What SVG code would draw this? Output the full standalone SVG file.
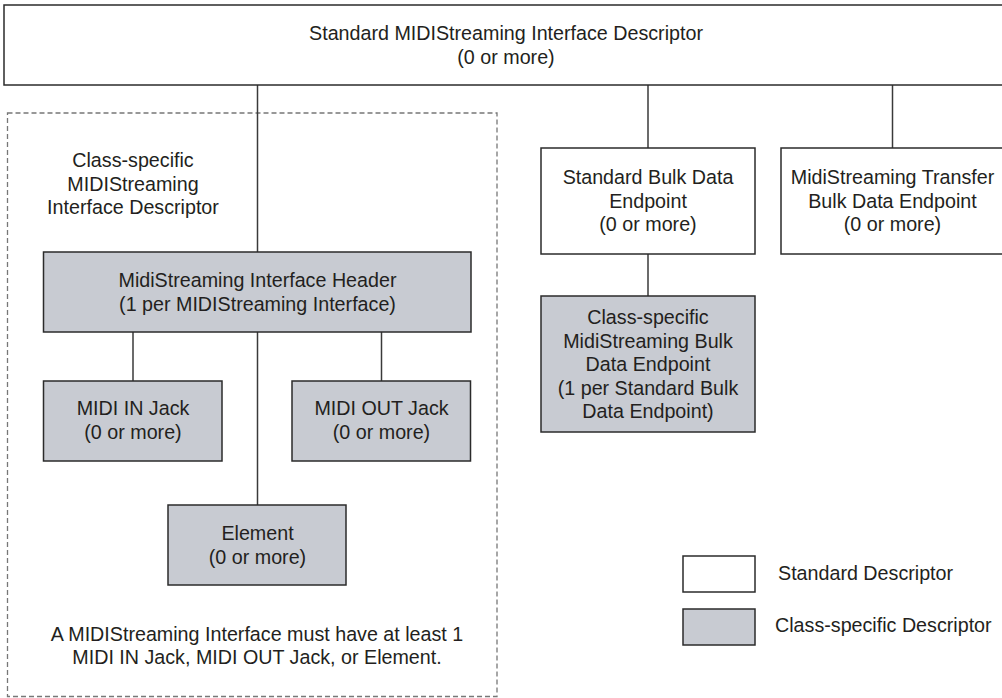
<svg xmlns="http://www.w3.org/2000/svg" width="1002" height="698" viewBox="0 0 1002 698">
<style>
text{font-family:"Liberation Sans",Arial,sans-serif;font-size:19.7px;fill:#231f20;text-anchor:middle}
.std{fill:#ffffff;stroke:#2b2b2b;stroke-width:1.5}
.cls{fill:#c8cbd2;stroke:#2b2b2b;stroke-width:1.5}
.conn line{stroke:#3a3a3a;stroke-width:1.5}
.dash{fill:none;stroke:#777;stroke-width:1.3;stroke-dasharray:5 3}
.lg{text-anchor:start}
</style>
<rect width="1002" height="698" fill="#fff"/>
<rect id="cs-region" class="dash" x="7.5" y="113" width="489.5" height="583.5"/>
<g class="conn" id="connectors">
<line x1="257.5" y1="85" x2="257.5" y2="252"/>
<line x1="648" y1="85" x2="648" y2="148"/>
<line x1="892.5" y1="85" x2="892.5" y2="148"/>
<line x1="648" y1="254" x2="648" y2="296"/>
<line x1="133" y1="332" x2="133" y2="381"/>
<line x1="381.5" y1="332" x2="381.5" y2="381"/>
<line x1="257.5" y1="332" x2="257.5" y2="505"/>
</g>
<g id="std-interface">
<rect class="std" x="4" y="5" width="1004" height="80"/>
<text x="506" y="40">Standard MIDIStreaming Interface Descriptor</text>
<text x="506" y="64">(0 or more)</text>
</g>
<g id="cs-label">
<text x="133" y="167">Class-specific</text>
<text x="133" y="190.5">MIDIStreaming</text>
<text x="133" y="214">Interface Descriptor</text>
</g>
<g id="header">
<rect class="cls" x="43.5" y="252" width="427.5" height="80"/>
<text x="257.5" y="287">MidiStreaming Interface Header</text>
<text x="257.5" y="311">(1 per MIDIStreaming Interface)</text>
</g>
<g id="midi-in">
<rect class="cls" x="43.5" y="381" width="178.5" height="80"/>
<text x="133" y="415">MIDI IN Jack</text>
<text x="133" y="439">(0 or more)</text>
</g>
<g id="midi-out">
<rect class="cls" x="292" y="381" width="178.5" height="80"/>
<text x="381.5" y="415">MIDI OUT Jack</text>
<text x="381.5" y="439">(0 or more)</text>
</g>
<g id="element">
<rect class="cls" x="168" y="505" width="178" height="80"/>
<text x="257.5" y="540">Element</text>
<text x="257.5" y="564">(0 or more)</text>
</g>
<g id="note">
<text x="257" y="641">A MIDIStreaming Interface must have at least 1</text>
<text x="257" y="664">MIDI IN Jack, MIDI OUT Jack, or Element.</text>
</g>
<g id="std-bulk">
<rect class="std" x="541" y="148" width="214" height="106"/>
<text x="648" y="184">Standard Bulk Data</text>
<text x="648" y="207.5">Endpoint</text>
<text x="648" y="231">(0 or more)</text>
</g>
<g id="transfer-bulk">
<rect class="std" x="781" y="148" width="224" height="106"/>
<text x="892.5" y="184">MidiStreaming Transfer</text>
<text x="892.5" y="207.5">Bulk Data Endpoint</text>
<text x="892.5" y="231">(0 or more)</text>
</g>
<g id="cs-bulk">
<rect class="cls" x="541" y="296" width="214" height="136"/>
<text x="648" y="324">Class-specific</text>
<text x="648" y="347.5">MidiStreaming Bulk</text>
<text x="648" y="371">Data Endpoint</text>
<text x="648" y="394.5">(1 per Standard Bulk</text>
<text x="648" y="418">Data Endpoint)</text>
</g>
<g id="legend-std">
<rect class="std" x="683" y="556" width="72" height="36"/>
<text class="lg" x="778" y="580">Standard Descriptor</text>
</g>
<g id="legend-cls">
<rect class="cls" x="683" y="609" width="72" height="36"/>
<text class="lg" x="775" y="632">Class-specific Descriptor</text>
</g>
</svg>
